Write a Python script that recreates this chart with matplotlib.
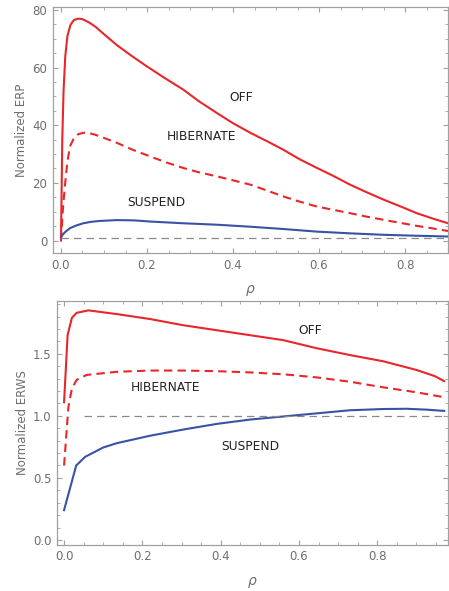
import numpy as np
import matplotlib.pyplot as plt
from matplotlib.ticker import MultipleLocator

# top panel: normalized ERP vs rho
rho_off_p = [0.0, 0.003, 0.006, 0.01, 0.015, 0.022, 0.03, 0.040, 0.050, 0.065, 0.08, 0.10,
             0.13, 0.165, 0.199, 0.24, 0.284, 0.32, 0.362, 0.40, 0.44, 0.48,
             0.517, 0.555, 0.595, 0.635, 0.672, 0.71, 0.75, 0.79, 0.827, 0.865, 0.9]
erp_off = [0.0, 35, 52, 64, 71, 74.8, 76.5, 77.0, 76.8, 75.7, 74.2, 71.6,
           67.8, 64.0, 60.5, 56.5, 52.4, 48.4, 44.3, 40.7, 37.4, 34.4,
           31.5, 28.2, 25.2, 22.3, 19.4, 16.8, 14.2, 11.8, 9.5, 7.6, 6.0]
rho_hib_p = [0.0, 0.004, 0.009, 0.015, 0.021, 0.03, 0.04, 0.052, 0.065, 0.08, 0.10, 0.13,
             0.165, 0.207, 0.245, 0.284, 0.32, 0.362, 0.40, 0.44,
             0.48, 0.517, 0.555, 0.595, 0.635, 0.672, 0.71, 0.75, 0.79, 0.827, 0.865, 0.9]
erp_hib = [0.0, 10, 18.8, 27.5, 32.7, 35.5, 36.9, 37.4, 37.3, 36.7, 35.6, 33.9,
           31.6, 29.2, 27.1, 25.2, 23.7, 22.3, 20.9, 19.4,
           17.3, 15.3, 13.5, 11.8, 10.6, 9.5, 8.3, 7.2, 6.1, 5.1, 4.2, 3.3]
rho_sus_p = [0.0, 0.005, 0.01, 0.021, 0.035, 0.052, 0.07, 0.09, 0.13, 0.17, 0.207, 0.284, 0.362, 0.44,
             0.517, 0.595, 0.672, 0.75, 0.82, 0.9]
erp_sus = [1.2, 2.2, 3.0, 4.3, 5.2, 6.0, 6.5, 6.8, 7.1, 7.0, 6.6, 6.0, 5.5, 4.8,
           4.0, 3.1, 2.5, 2.0, 1.7, 1.4]

# bottom panel: normalized ERWS vs rho
rho_off_w = [0.0, 0.009, 0.02, 0.032, 0.062, 0.135, 0.22, 0.305, 0.39, 0.475,
             0.56, 0.645, 0.73, 0.815, 0.9, 0.947, 0.971]
erws_off = [1.11, 1.65, 1.79, 1.83, 1.85, 1.82, 1.78, 1.73, 1.69, 1.65,
            1.61, 1.545, 1.49, 1.44, 1.37, 1.32, 1.28]
rho_hib_w = [0.0, 0.011, 0.02, 0.032, 0.058, 0.135, 0.22, 0.305, 0.39, 0.475,
             0.56, 0.645, 0.73, 0.815, 0.9, 0.971]
erws_hib = [0.6, 1.07, 1.22, 1.29, 1.33, 1.355, 1.365, 1.365, 1.36, 1.35,
            1.335, 1.31, 1.275, 1.23, 1.19, 1.15]
rho_sus_w = [0.0, 0.031, 0.054, 0.1, 0.135, 0.22, 0.305, 0.39, 0.475,
             0.56, 0.645, 0.73, 0.815, 0.875, 0.926, 0.971]
erws_sus = [0.24, 0.60, 0.67, 0.745, 0.78, 0.84, 0.89, 0.935, 0.97,
            0.995, 1.02, 1.045, 1.055, 1.057, 1.05, 1.04]

red = "#e8262b"
blue = "#3a52a3"
grey = "#8a8a8a"

fig = plt.figure(figsize=(4.49, 5.91), dpi=100)
ax1 = fig.add_axes([0.118, 0.572, 0.880, 0.416])
ax2 = fig.add_axes([0.127, 0.078, 0.871, 0.413])


def style(ax):
    for s in ax.spines.values():
        s.set_color("#a0a0a0")
        s.set_linewidth(0.9)
    ax.tick_params(which="both", direction="in", top=True, right=True,
                   color="#a0a0a0", labelcolor="#6e6e6e", labelsize=8.5)
    ax.tick_params(which="major", length=3.5, width=0.8, pad=4)
    ax.tick_params(which="minor", length=2, width=0.6)
    ax.tick_params(labeltop=False, labelright=False)


ax1.plot(rho_off_p, erp_off, color=red, lw=1.5)
ax1.plot(rho_hib_p, erp_hib, color=red, lw=1.5, ls=(0, (4, 2.5)))
ax1.plot(rho_sus_p, erp_sus, color=blue, lw=1.5)
ax1.plot([0, 0.9], [1, 1], color=grey, lw=0.9, ls=(0, (6, 4)))
ax1.set_xlim(-0.0186, 0.9)
ax1.set_ylim(-4.3, 81)
ax1.xaxis.set_major_locator(MultipleLocator(0.2))
ax1.xaxis.set_minor_locator(MultipleLocator(0.05))
ax1.yaxis.set_major_locator(MultipleLocator(20))
ax1.yaxis.set_minor_locator(MultipleLocator(5))
ax1.xaxis.set_major_formatter(lambda v, p: f"{v:.1f}")
style(ax1)
ax1.set_ylabel("Normalized ERP", color="#6e6e6e", fontsize=8.5, labelpad=3)
ax1.set_xlabel(r"$\rho$", color="#6e6e6e", fontsize=10, labelpad=8)
ax1.text(0.42, 49.6, "OFF", fontsize=8.8, ha="center", va="center", color="#222222")
ax1.text(0.327, 36, "HIBERNATE", fontsize=8.8, ha="center", va="center", color="#222222")
ax1.text(0.222, 13.2, "SUSPEND", fontsize=8.8, ha="center", va="center", color="#222222")

ax2.plot(rho_off_w, erws_off, color=red, lw=1.5)
ax2.plot(rho_hib_w, erws_hib, color=red, lw=1.5, ls=(0, (4, 2.5)))
ax2.plot(rho_sus_w, erws_sus, color=blue, lw=1.5)
ax2.plot([0.05, 0.971], [1, 1], color=grey, lw=0.9, ls=(0, (6, 4)))
ax2.set_xlim(-0.018, 0.981)
ax2.set_ylim(-0.04, 1.927)
ax2.xaxis.set_major_locator(MultipleLocator(0.2))
ax2.xaxis.set_minor_locator(MultipleLocator(0.05))
ax2.yaxis.set_major_locator(MultipleLocator(0.5))
ax2.yaxis.set_minor_locator(MultipleLocator(0.1))
ax2.xaxis.set_major_formatter(lambda v, p: f"{v:.1f}")
ax2.yaxis.set_major_formatter(lambda v, p: f"{v:.1f}")
style(ax2)
ax2.set_ylabel("Normalized ERWS", color="#6e6e6e", fontsize=8.5, labelpad=3)
ax2.set_xlabel(r"$\rho$", color="#6e6e6e", fontsize=10, labelpad=8)
ax2.text(0.628, 1.69, "OFF", fontsize=8.8, ha="center", va="center", color="#222222")
ax2.text(0.258, 1.23, "HIBERNATE", fontsize=8.8, ha="center", va="center", color="#222222")
ax2.text(0.475, 0.755, "SUSPEND", fontsize=8.8, ha="center", va="center", color="#222222")

plt.savefig("out.png", dpi=100)
